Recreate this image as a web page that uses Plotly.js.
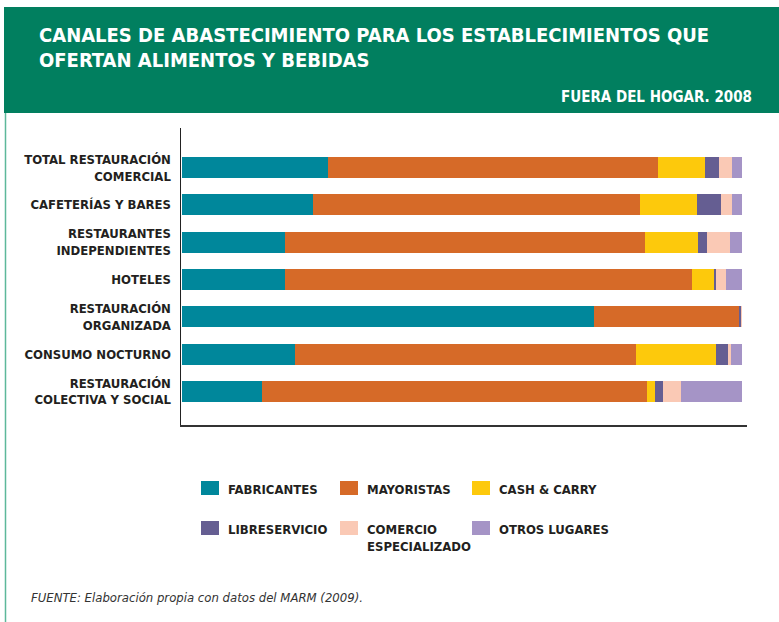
<!DOCTYPE html>
<html>
<head>
<meta charset="utf-8">
<script src="https://cdn.plot.ly/plotly-3.0.1.min.js"></script>
<style>
html,body{margin:0;padding:0;background:#fff;}
#chart{width:779px;height:622px;}
</style>
</head>
<body>
<div id="chart"></div>
<script>
// ---- DATA ----
const categories = [
  'TOTAL RESTAURACIÓN<br>COMERCIAL',
  'CAFETERÍAS Y BARES',
  'RESTAURANTES<br>INDEPENDIENTES',
  'HOTELES',
  'RESTAURACIÓN<br>ORGANIZADA',
  'CONSUMO NOCTURNO',
  'RESTAURACIÓN<br>COLECTIVA Y SOCIAL'
];
const seriesNames = ['FABRICANTES', 'MAYORISTAS', 'CASH & CARRY', 'LIBRESERVICIO', 'COMERCIO<br>ESPECIALIZADO', 'OTROS LUGARES'];
const fabricantes   = [26.1, 23.4, 18.4, 18.4, 73.6, 20.2, 14.3];
const mayoristas    = [58.9, 58.4, 64.3, 72.7, 25.9, 60.9, 68.8];
const cashCarry     = [8.4, 10.2, 9.5, 3.9, 0.0, 14.3, 1.4];
const libreservicio = [2.5, 4.3, 1.6, 0.4, 0.3, 2.1, 1.4];
const comercio      = [2.3, 2.0, 4.1, 1.8, 0.2, 0.5, 3.2];
const otros         = [1.8, 1.7, 2.1, 2.8, 0.0, 2.0, 10.9];
const titleLines = ['CANALES DE ABASTECIMIENTO PARA LOS ESTABLECIMIENTOS QUE', 'OFERTAN ALIMENTOS Y BEBIDAS'];
const subtitle = 'FUERA DEL HOGAR. 2008';
const source = 'FUENTE: Elaboración propia con datos del MARM (2009).';

// ---- STYLE ----
const colors = ['#00879B', '#D66A28', '#FDC90C', '#655E92', '#FAC9B5', '#A594C6'];
const FONT = '"DejaVu Sans Condensed", sans-serif';
const W = 779, H = 622;
const M = {l: 181, r: 32, t: 128, b: 197};
const pw = W - M.l - M.r, ph = H - M.t - M.b;
const px = v => (v - M.l) / pw;
const py = v => (H - M.b - v) / ph;

const values = [fabricantes, mayoristas, cashCarry, libreservicio, comercio, otros];
const traces = values.map((vals, i) => ({
  type: 'bar',
  orientation: 'h',
  name: seriesNames[i],
  y: categories,
  x: vals,
  marker: {color: colors[i], line: {width: 0}},
  showlegend: false,
  hoverinfo: 'x+name'
}));

const shapes = [
  {type: 'rect', xref: 'paper', yref: 'paper', x0: px(4), x1: px(779), y0: py(113), y1: py(7),
   fillcolor: '#017F5F', line: {width: 0}, layer: 'below'},
  {type: 'line', xref: 'paper', yref: 'paper', x0: px(5.5), x1: px(5.5), y0: py(113), y1: py(622),
   line: {color: '#5DB89A', width: 1.5}}
];
const annotations = [
  {xref: 'paper', yref: 'paper', x: px(37), y: py(35), xanchor: 'left', yanchor: 'middle',
   text: '<b>' + titleLines[0] + '</b>', showarrow: false,
   font: {family: FONT, size: 20, color: '#FFFFFF'}},
  {xref: 'paper', yref: 'paper', x: px(37), y: py(60), xanchor: 'left', yanchor: 'middle',
   text: '<b>' + titleLines[1] + '</b>', showarrow: false,
   font: {family: FONT, size: 20, color: '#FFFFFF'}},
  {xref: 'paper', yref: 'paper', x: px(754), y: py(97), xanchor: 'right', yanchor: 'middle',
   text: '<b>' + subtitle + '</b>', showarrow: false,
   font: {family: FONT, size: 15, color: '#FFFFFF'}},
  {xref: 'paper', yref: 'paper', x: px(29), y: py(597), xanchor: 'left', yanchor: 'middle',
   text: '<i>' + source + '</i>', showarrow: false,
   font: {family: FONT, size: 13, color: '#333333'}}
];
// custom legend (3 columns x 2 rows)
const legX = [201, 340, 472];
const legY = [481, 521];
seriesNames.forEach((n, i) => {
  const c = i % 3, r = Math.floor(i / 3);
  shapes.push({type: 'rect', xref: 'paper', yref: 'paper',
    x0: px(legX[c]), x1: px(legX[c] + 18), y0: py(legY[r] + 14), y1: py(legY[r]),
    fillcolor: colors[i], line: {width: 0}});
  annotations.push({xref: 'paper', yref: 'paper', x: px(legX[c] + 25), y: py(legY[r] - 1),
    xanchor: 'left', yanchor: 'top', align: 'left', showarrow: false,
    text: '<b>' + n + '</b>',
    font: {family: FONT, size: 13, color: '#231F20'}});
});

const layout = {
  width: W, height: H,
  margin: M,
  paper_bgcolor: '#FFFFFF', plot_bgcolor: '#FFFFFF',
  barmode: 'stack',
  bargap: 0.44,
  xaxis: {
    range: [-0.2, 100.9], showgrid: false, zeroline: false, showticklabels: false,
    showline: true, linecolor: '#333333', linewidth: 2, ticks: '', fixedrange: true
  },
  yaxis: {
    type: 'category', range: [6.9, -1.06], showgrid: false, zeroline: false,
    showline: true, linecolor: '#222222', linewidth: 1.5,
    ticks: 'outside', ticklen: 6, tickcolor: 'rgba(0,0,0,0)',
    tickmode: 'array', tickvals: categories,
    ticktext: categories.map(c => '<b>' + c + '</b>'),
    tickfont: {family: FONT, size: 13, color: '#231F20'}, fixedrange: true
  },
  shapes: shapes,
  annotations: annotations,
  font: {family: FONT}
};

Plotly.newPlot('chart', traces, layout, {displayModeBar: false, staticPlot: true});
</script>
</body>
</html>
